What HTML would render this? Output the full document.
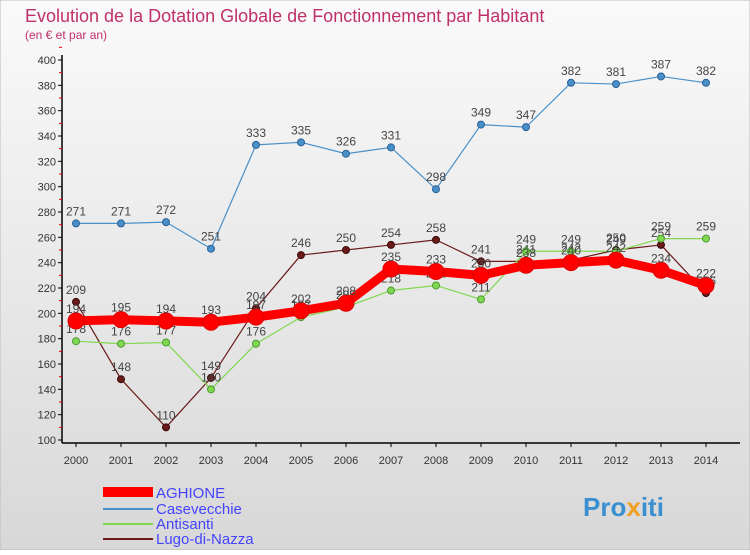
<!DOCTYPE html>
<html><head><meta charset="utf-8"><style>
body{margin:0;width:750px;height:550px;overflow:hidden;font-family:"Liberation Sans",sans-serif}
</style></head><body>
<svg id="c" width="750" height="550" xmlns="http://www.w3.org/2000/svg">
<defs><linearGradient id="bg" x1="0" y1="0" x2="0" y2="1"><stop offset="0" stop-color="#fafafa"/><stop offset="1" stop-color="#d8d8d8"/></linearGradient></defs>
<rect x="0" y="0" width="750" height="550" fill="url(#bg)" stroke="#bbb"/>
<text x="25" y="22" font-size="18" fill="#c0306a">Evolution de la Dotation Globale de Fonctionnement par Habitant</text>
<text x="25" y="39" font-size="12" fill="#c0306a">(en € et par an)</text>
<g id="axes"></g><g id="series"></g>
<g>
<rect x="103" y="487" width="50" height="10" fill="#f00"/>
<text x="156" y="498" font-size="15" fill="#44f">AGHIONE</text>
<line x1="103" y1="509" x2="153" y2="509" stroke="#4a90c8" stroke-width="2"/>
<text x="156" y="514" font-size="15" fill="#44f">Casevecchie</text>
<line x1="103" y1="524" x2="153" y2="524" stroke="#80d850" stroke-width="2"/>
<text x="156" y="529" font-size="15" fill="#44f">Antisanti</text>
<line x1="103" y1="539" x2="153" y2="539" stroke="#6b1a1a" stroke-width="2"/>
<text x="156" y="544" font-size="15" fill="#44f">Lugo-di-Nazza</text>
</g>
<text x="583" y="516" font-size="26" font-weight="bold" fill="#3a8fd0">Pro<tspan fill="#f0a020">x</tspan>iti</text>
</svg>
<script>
const years=[2000,2001,2002,2003,2004,2005,2006,2007,2008,2009,2010,2011,2012,2013,2014];
const yTicks=[100,120,140,160,180,200,220,240,260,280,300,320,340,360,380,400];
const aghione=[194,195,194,193,197,202,208,235,233,230,238,240,242,234,222];
const casevecchie=[271,271,272,251,333,335,326,331,298,349,347,382,381,387,382];
const antisanti=[178,176,177,140,176,197,205,218,222,211,249,249,249,259,259];
const lugo=[209,148,110,149,204,246,250,254,258,241,241,242,250,254,216];
const NS="http://www.w3.org/2000/svg";
const X=i=>76+i*45, Y=v=>440-(v-100)*380/300;
function mk(t,a,p){const e=document.createElementNS(NS,t);for(const k in a)e.setAttribute(k,a[k]);p.appendChild(e);return e;}
const ax=document.getElementById('axes'),sg=document.getElementById('series');
let l=mk('line',{x1:62,y1:55,x2:62,y2:443,stroke:'#000','stroke-width':1.5},ax);


l=mk('line',{x1:62,y1:443,x2:740,y2:443,stroke:'#000','stroke-width':1.5},ax);


yTicks.forEach(v=>{
 mk('line',{x1:58,y1:Y(v),x2:62,y2:Y(v),stroke:'#000'},ax);
 mk('line',{x1:59,y1:Y(v+10),x2:62,y2:Y(v+10),stroke:'#e00'},ax);
 const t=mk('text',{x:56,y:Y(v)+4,'font-size':11,'text-anchor':'end',fill:'#333'},ax);t.textContent=v;
 
 
});
years.forEach((y,i)=>{
 mk('line',{x1:X(i),y1:443,x2:X(i),y2:447,stroke:'#000'},ax);
 const t=mk('text',{x:X(i),y:464,'font-size':11,'text-anchor':'middle',fill:'#333'},ax);t.textContent=y;
 
 
});
function series(d,col,w,r,name,dark){
 const g=mk('g',{},sg);
 
 
 mk('polyline',{points:d.map((v,i)=>X(i)+','+Y(v)).join(' '),fill:'none',stroke:col,'stroke-width':w,'stroke-linejoin':'round'},g);
 d.forEach((v,i)=>{
  const c=mk('circle',{cx:X(i),cy:Y(v),r:r,fill:col,stroke:dark,'stroke-width':1},g);
  
  
  const t=mk('text',{x:X(i),y:Y(v)-8,'font-size':12,'text-anchor':'middle',fill:'#444'},g);t.textContent=v;
 });
}
series(lugo,'#6b1a1a',1.2,3.5,'lugo','#3a0a0a');
series(antisanti,'#80d850',1.2,3.5,'antisanti','#4a9a30');
series(casevecchie,'#4a90c8',1.2,3.5,'casevecchie','#2a6098');
series(aghione,'#f00',9,8,'aghione','#d00');
</script>
</body></html>
